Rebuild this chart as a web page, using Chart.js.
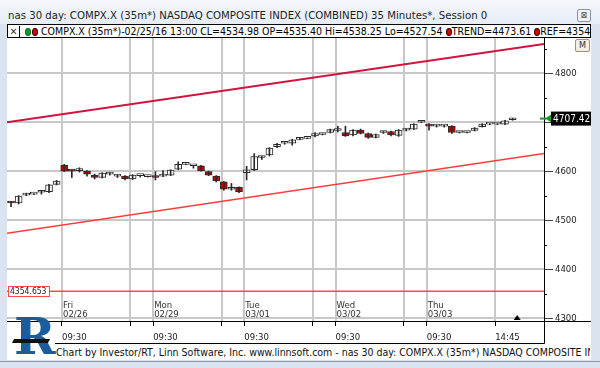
<!DOCTYPE html>
<html>
<head>
<meta charset="utf-8">
<script src="https://cdn.jsdelivr.net/npm/chart.js@4.4.1/dist/chart.umd.min.js"></script>
<style>
  body { margin: 0; width: 600px; height: 368px; overflow: hidden; position: relative;
         background: #d9e4f0; font-family: "DejaVu Sans Condensed", "Liberation Sans", sans-serif; }
  #top { position: absolute; left: 0; top: 0; width: 600px; height: 24px;
         background: linear-gradient(#f4f7fb, #e6edf5); }
  #title { position: absolute; left: 8px; top: 9px; font-size: 11.3px; color: #1e1e1e; white-space: nowrap; }
  #close { position: absolute; left: 577px; top: 9px; width: 12px; height: 11px; border: 1px solid #8a949e;
           border-radius: 2px; background: #eef1f5; font-size: 9px; line-height: 11px; text-align: center; color: #555; }
  #panel { position: absolute; left: 7px; top: 24px; width: 584px; height: 336px; background: #fff; }
  #bottom { position: absolute; left: 0; top: 361px; width: 600px; height: 1px; background: #8d99a6; }
  #hdr { position: absolute; left: 7px; top: 24px; width: 582px; height: 12px; border: 1px solid #000;
         background: #fff; font-size: 10.5px; line-height: 12px; white-space: nowrap; overflow: hidden; color: #000; }
  #hdr .x { display: inline-block; width: 11px; border-right: 1px solid #000; text-align: center; font-size: 10px; color: #333; }
  .dot { display: inline-block; width: 6px; height: 8px; border-radius: 50%; vertical-align: -1px; border: 1px solid #300; box-sizing: border-box; }
  .g { background: #12a012; border-color: #063; margin-left: 5px; }
  .r { background: #d80000; }
  #chart { position: absolute; left: 7px; top: 37px; }
  #mbtn { position: absolute; left: 575px; top: 39px; width: 13px; height: 11px; border: 1px solid #a09070;
          border-radius: 2px; background: #f4efe2; font-size: 9px; line-height: 11px; text-align: center; color: #333; }
  #foot { position: absolute; left: 56px; top: 346px; width: 534px; font-size: 10.5px; white-space: nowrap; overflow: hidden; color: #111; }
  #logo { position: absolute; left: 14px; top: 312px; font-family: "DejaVu Serif", serif; font-weight: bold;
          font-size: 50px; line-height: 50px; color: #1a5c9c; }
  #logobar { position: absolute; left: 13px; top: 339px; width: 36px; height: 4px; background: #111; transform: skewX(-30deg); }
</style>
</head>
<body>
<div id="top"></div>
<div id="title">nas 30 day: COMPX.X (35m*) NASDAQ COMPOSITE INDEX (COMBINED) 35 Minutes*, Session 0</div>
<div id="close">⊠</div>
<div id="panel"></div>
<div id="bottom"></div>
<div id="hdr"><span class="x">✕</span><span class="dot g"></span><span class="dot r" style="margin-left:1px"></span> COMPX.X (35m*)-02/25/16 13:00 CL=4534.98 OP=4535.40 Hi=4538.25 Lo=4527.54 <span class="dot r"></span>TREND=4473.61 <span class="dot r"></span>REF=4354.653</div>
<canvas id="chart" width="584" height="308"></canvas>
<div id="mbtn">M</div>
<div id="logo">R</div>
<div id="logobar"></div>
<div id="foot">Chart by Investor/RT, Linn Software, Inc. www.linnsoft.com - nas 30 day: COMPX.X (35m*) NASDAQ COMPOSITE INDEX (COMBINED) 35 Minutes*</div>

<script>
// 35 minute bars, 02/25 13:00 .. 03/03 close
const opens  = [4535.4, 4535, 4551, 4553, 4557, 4558, 4573,
                4612, 4601, 4601, 4600, 4592, 4587, 4594, 4590, 4590, 4584, 4591, 4589,
                4588, 4590, 4592, 4604, 4614, 4611, 4611, 4599, 4590, 4578, 4563, 4567,
                4597, 4603, 4628, 4633, 4650, 4657, 4657, 4665, 4667, 4672, 4675, 4679,
                4683, 4679, 4674, 4684, 4677, 4669, 4679, 4681, 4673, 4684, 4686, 4700,
                4696, 4692, 4692, 4692, 4679, 4679, 4683, 4691, 4696, 4696, 4696, 4705];
const highs  = [4538.25, 4550, 4555, 4554, 4561, 4573, 4581,
                4614, 4602, 4607, 4601, 4594, 4597, 4597, 4593, 4591, 4593, 4592, 4590,
                4599, 4601, 4603, 4619, 4615, 4612, 4612, 4600, 4591, 4579, 4575, 4568,
                4610, 4636, 4630, 4648, 4657, 4658, 4665, 4669, 4668, 4679, 4676, 4686,
                4692, 4692, 4685, 4686, 4678, 4676, 4681, 4682, 4685, 4687, 4697, 4701,
                4697, 4694, 4694, 4693, 4680, 4680, 4689, 4697, 4697, 4697, 4704, 4708];
const lows   = [4527.54, 4533, 4550, 4552, 4553, 4556, 4572,
                4599, 4587, 4598, 4590, 4584, 4586, 4592, 4587, 4582, 4583, 4588, 4588,
                4582, 4589, 4591, 4603, 4613, 4606, 4600, 4591, 4578, 4561, 4561, 4556,
                4582, 4601, 4624, 4631, 4648, 4655, 4653, 4664, 4666, 4670, 4674, 4678,
                4680, 4671, 4672, 4676, 4667, 4668, 4677, 4672, 4671, 4682, 4685, 4699,
                4684, 4690, 4690, 4677, 4678, 4678, 4682, 4690, 4695, 4695, 4695, 4704];
const closes = [4534.98, 4549, 4553, 4553, 4558, 4572, 4580,
                4600, 4600, 4601, 4594, 4587, 4596, 4594, 4590, 4584, 4592, 4591, 4589,
                4587, 4590, 4602, 4614, 4614, 4611, 4601, 4592, 4580, 4563, 4567, 4558,
                4603, 4630, 4628, 4647, 4655, 4657, 4664, 4668, 4667, 4677, 4675, 4685,
                4683, 4672, 4684, 4677, 4669, 4675, 4679, 4674, 4684, 4684, 4696, 4700,
                4692, 4692, 4692, 4679, 4679, 4679, 4688, 4696, 4696, 4696, 4703, 4707.42];

const dayStartBars = [7, 19, 31, 43, 55];
const dayNames = ['Fri', 'Mon', 'Tue', 'Wed', 'Thu'];
const dayDates = ['02/26', '02/29', '03/01', '03/02', '03/03'];
const midBars = [16, 28, 40, 52, 64];
const midLabels = ['', '', '', '', '14:45'];
const priceTicks = [4300, 4400, 4500, 4600, 4700, 4800];
const trendUpper = [4700, 4860];   // value at left / right edge
const trendLower = [4473, 4636];
const refLevel = 4354.653;
const lastPrice = 4707.42;

const FONT = '"DejaVu Sans Condensed", "Liberation Sans", sans-serif';
const GRID = '#c8c8c8';
const xMin = -0.53, xMax = 70.13, tickShift = -0.3;

const xTicks = dayStartBars.map(b => ({ value: b + tickShift, label: '09:30' }))
  .concat(midBars.map((b, i) => ({ value: b + tickShift, label: midLabels[i] })));

// grid lines, painted behind whatever is already on the canvas
function drawGrid(chart) {
  const { ctx, chartArea: a, scales: { x, y } } = chart;
  ctx.save();
  ctx.globalCompositeOperation = 'destination-over';
  ctx.strokeStyle = GRID;
  ctx.lineWidth = 2;
  xTicks.forEach(t => {
    const px = Math.round(x.getPixelForValue(t.value));
    ctx.beginPath(); ctx.moveTo(px, a.top); ctx.lineTo(px, a.bottom); ctx.stroke();
  });
  priceTicks.forEach(v => {
    const py = Math.round(y.getPixelForValue(v));
    ctx.beginPath(); ctx.moveTo(a.left, py); ctx.lineTo(a.right, py); ctx.stroke();
  });
  ctx.restore();
}

const extras = {
  id: 'extras',
  afterDraw(chart) {
    const { ctx, chartArea: a, scales: { x, y } } = chart;
    drawGrid(chart);
    ctx.save();
    ctx.lineWidth = 1;
    ctx.strokeStyle = '#000';
    // minor price ticks
    priceTicks.forEach(v => {
      const py = Math.round(y.getPixelForValue(v + 50)) + 0.5;
      if (py > a.top) { ctx.beginPath(); ctx.moveTo(a.right, py); ctx.lineTo(a.right + 3, py); ctx.stroke(); }
    });
    // axis line carried on to the right + box round the time labels
    const by = Math.round(a.bottom) + 0.5;
    ctx.beginPath(); ctx.moveTo(0, by); ctx.lineTo(584, by); ctx.stroke();
    ctx.beginPath(); ctx.moveTo(a.right + 0.5, by); ctx.lineTo(a.right + 0.5, 306.5); ctx.lineTo(48, 306.5); ctx.stroke();

    // day labels inside the plot
    ctx.fillStyle = '#333';
    ctx.font = '9.5px ' + FONT;
    ctx.textAlign = 'left';
    ctx.textBaseline = 'middle';
    dayStartBars.forEach((b, i) => {
      const px = x.getPixelForValue(b + tickShift) + 1;
      ctx.fillText(dayNames[i], px, a.bottom - 15);
      ctx.fillText(dayDates[i], px, a.bottom - 6);
    });

    // REF label box
    const ry = y.getPixelForValue(refLevel);
    ctx.fillStyle = '#fff';
    ctx.fillRect(1, ry - 5, 41, 10);
    ctx.strokeStyle = '#ff4a4a';
    ctx.strokeRect(1.5, Math.round(ry - 5) + 0.5, 41, 10);
    ctx.fillStyle = '#222';
    ctx.font = '8.5px ' + FONT;
    ctx.fillText(refLevel.toFixed(3), 3, ry + 0.5);

    // last price tag
    const ly = y.getPixelForValue(lastPrice);
    ctx.strokeStyle = '#1c9a1c';
    ctx.lineWidth = 2;
    ctx.beginPath(); ctx.moveTo(a.right - 4, ly); ctx.lineTo(a.right + 2, ly); ctx.stroke();
    ctx.fillStyle = '#1c9a1c';
    ctx.beginPath(); ctx.moveTo(a.right + 1, ly); ctx.lineTo(a.right + 8, ly - 4.5); ctx.lineTo(a.right + 8, ly + 4.5); ctx.closePath(); ctx.fill();
    ctx.fillStyle = '#000';
    ctx.fillRect(a.right + 7, ly - 7, 40, 14);
    ctx.fillStyle = '#fff';
    ctx.font = '10px ' + FONT;
    ctx.fillText(lastPrice.toFixed(2), a.right + 9, ly + 0.5);

    // end-of-data marker
    const mx = x.getPixelForValue(opens.length - 0.4);
    ctx.fillStyle = '#000';
    ctx.beginPath(); ctx.moveTo(mx, a.bottom - 6); ctx.lineTo(mx - 3.5, a.bottom - 1); ctx.lineTo(mx + 3.5, a.bottom - 1); ctx.closePath(); ctx.fill();
    ctx.restore();
  }
};

new Chart(document.getElementById('chart').getContext('2d'), {
  type: 'bar',
  data: {
    datasets: [
      {
        type: 'line', label: 'upper',
        data: [{ x: xMin, y: trendUpper[0] }, { x: xMax, y: trendUpper[1] }],
        borderColor: '#d0143f', borderWidth: 2, pointRadius: 0
      },
      {
        type: 'line', label: 'TREND',
        data: [{ x: xMin, y: trendLower[0] }, { x: xMax, y: trendLower[1] }],
        borderColor: '#ff3c3c', borderWidth: 1.5, pointRadius: 0
      },
      {
        type: 'line', label: 'REF',
        data: [{ x: xMin, y: refLevel }, { x: xMax, y: refLevel }],
        borderColor: '#ff4a4a', borderWidth: 1.5, pointRadius: 0
      },
      {
        label: 'wick',
        data: highs.map((h, i) => ({ x: i, y: [lows[i], h] })),
        backgroundColor: '#2a2a2a', barThickness: 1, grouped: false, minBarLength: 1
      },
      {
        label: 'body',
        data: opens.map((o, i) => ({ x: i, y: [o, closes[i]] })),
        backgroundColor: opens.map((o, i) => closes[i] >= o ? '#ffffff' : '#c80000'),
        borderColor: '#2a2a2a', borderWidth: 1, borderSkipped: false,
        barThickness: 7, grouped: false, minBarLength: 2
      }
    ]
  },
  options: {
    responsive: false,
    animation: false,
    layout: { padding: { top: 1, left: 0, right: 0, bottom: 0 } },
    plugins: { legend: { display: false }, tooltip: { enabled: false } },
    scales: {
      x: {
        type: 'linear', min: xMin, max: xMax, offset: false,
        afterBuildTicks: s => { s.ticks = xTicks.map(t => ({ value: t.value })); },
        afterFit: s => { s.height = 24; s.paddingLeft = 0; s.paddingRight = 0; },
        ticks: {
          autoSkip: false, maxRotation: 0, align: 'start', padding: 6,
          color: '#222', font: { family: FONT, size: 9.5 },
          callback: v => (xTicks.find(t => Math.abs(t.value - v) < 1e-6) || {}).label || ''
        },
        grid: { offset: false, drawOnChartArea: false, tickColor: '#000', tickLength: 5, tickWidth: 1 },
        border: { display: false }
      },
      y: {
        position: 'right', min: 4294, max: 4872,
        afterBuildTicks: s => { s.ticks = priceTicks.map(v => ({ value: v })); },
        afterFit: s => { s.width = 47; s.paddingTop = 0; s.paddingBottom = 0; },
        ticks: { color: '#222', padding: 2, font: { family: FONT, size: 9.5 }, callback: v => String(v) },
        grid: { drawOnChartArea: false, tickColor: '#444', tickLength: 9, tickWidth: 1 },
        border: { display: true, color: '#000', width: 1 }
      }
    }
  }
  , plugins: [extras]
});
</script>
</body>
</html>
